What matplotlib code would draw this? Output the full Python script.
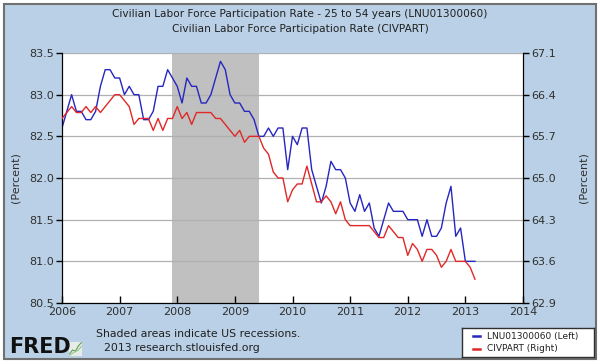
from matplotlib import pyplot as plt
from matplotlib.patches import Rectangle
import numpy as np
import pandas as pd

# monthly values, Jan 2006 .. Mar 2013
lnu01300060 = [82.6, 82.8, 83.0, 82.8, 82.8, 82.7, 82.7, 82.8, 83.1, 83.3, 83.3, 83.2,
               83.2, 83.0, 83.1, 83.0, 83.0, 82.7, 82.7, 82.8, 83.1, 83.1, 83.3, 83.2,
               83.1, 82.9, 83.2, 83.1, 83.1, 82.9, 82.9, 83.0, 83.2, 83.4, 83.3, 83.0,
               82.9, 82.9, 82.8, 82.8, 82.7, 82.5, 82.5, 82.6, 82.5, 82.6, 82.6, 82.1,
               82.5, 82.4, 82.6, 82.6, 82.1, 81.9, 81.7, 81.9, 82.2, 82.1, 82.1, 82.0,
               81.7, 81.6, 81.8, 81.6, 81.7, 81.4, 81.3, 81.5, 81.7, 81.6, 81.6, 81.6,
               81.5, 81.5, 81.5, 81.3, 81.5, 81.3, 81.3, 81.4, 81.7, 81.9, 81.3, 81.4,
               81.0, 81.0, 81.0]
civpart = [66.0, 66.1, 66.2, 66.1, 66.1, 66.2, 66.1, 66.2, 66.1, 66.2, 66.3, 66.4,
           66.4, 66.3, 66.2, 65.9, 66.0, 66.0, 66.0, 65.8, 66.0, 65.8, 66.0, 66.0,
           66.2, 66.0, 66.1, 65.9, 66.1, 66.1, 66.1, 66.1, 66.0, 66.0, 65.9, 65.8,
           65.7, 65.8, 65.6, 65.7, 65.7, 65.7, 65.5, 65.4, 65.1, 65.0, 65.0, 64.6,
           64.8, 64.9, 64.9, 65.2, 64.9, 64.6, 64.6, 64.7, 64.6, 64.4, 64.6, 64.3,
           64.2, 64.2, 64.2, 64.2, 64.2, 64.1, 64.0, 64.0, 64.2, 64.1, 64.0, 64.0,
           63.7, 63.9, 63.8, 63.6, 63.8, 63.8, 63.7, 63.5, 63.6, 63.8, 63.6, 63.6,
           63.6, 63.5, 63.3]
left_ticks = [80.5, 81.0, 81.5, 82.0, 82.5, 83.0, 83.5]
right_ticks = [62.9, 63.6, 64.3, 65.0, 65.7, 66.4, 67.1]
years = list(range(2006, 2015))
recession = (2007 + 11 / 12, 2009 + 5 / 12)

dates = pd.date_range('2006-01-01', periods=len(civpart), freq='MS')
x = dates.year + (dates.month - 1) / 12

bg = '#b9d0e6'
blue = '#2626c0'
red = '#e02828'
txt = '#202020'

fig = plt.figure(figsize=(6, 3.64), dpi=100)
fig.patch.set_facecolor('white')
fig.patches.append(Rectangle((4 / 600, 5 / 364), 592 / 600, 355 / 364, transform=fig.transFigure,
                             facecolor=bg, edgecolor='#707070', lw=1.5, zorder=-10))

ax = fig.add_axes([62 / 600, 1 - 303 / 364, 461 / 600, 250 / 364])
ax.set_facecolor('white')
ax.axvspan(*recession, color='#c0c0c0', lw=0, zorder=1)
ax.plot(x, lnu01300060, color=blue, lw=1, zorder=3)
ax.set_xlim(2006, 2014)
ax.set_ylim(80.5, 83.5)
ax.set_yticks(left_ticks)
ax.set_yticklabels(['%.1f' % v for v in left_ticks])
ax.set_xticks(years)
ax.set_xticklabels([str(y) for y in years])
for v in left_ticks:
    ax.axhline(v, color='#b0b0b0', lw=0.9, zorder=2)
ax.tick_params(axis='y', direction='out', length=4, width=1, labelsize=8, labelcolor='#303030', pad=2)
ax.tick_params(axis='x', direction='in', length=5, width=1, labelsize=8, labelcolor='#303030', pad=3)
ax.spines['top'].set_visible(False)
ax.set_ylabel('(Percent)', fontsize=8, color='#303030', labelpad=6)

ax2 = ax.twinx()
ax2.plot(x, civpart, color=red, lw=1, zorder=3)
ax2.set_ylim(62.9, 67.1)
ax2.set_yticks(right_ticks)
ax2.set_yticklabels(['%.1f' % v for v in right_ticks])
ax2.tick_params(axis='y', direction='out', length=4, width=1, labelsize=8, labelcolor='#303030', pad=2)
ax2.spines['top'].set_visible(False)
ax2.set_ylabel('(Percent)', fontsize=8, color='#303030', rotation=90, labelpad=16)

fig.text(0.5, 1 - 14 / 364, 'Civilian Labor Force Participation Rate - 25 to 54 years (LNU01300060)',
         ha='center', va='center', fontsize=7.6, color=txt)
fig.text(0.5, 1 - 29 / 364, 'Civilian Labor Force Participation Rate (CIVPART)',
         ha='center', va='center', fontsize=7.6, color=txt)

fig.text(96 / 600, 1 - 334 / 364, 'Shaded areas indicate US recessions.', ha='left', va='center',
         fontsize=7.8, color=txt)
fig.text(104 / 600, 1 - 348 / 364, '2013 research.stlouisfed.org', ha='left', va='center',
         fontsize=7.8, color=txt)
fig.text(9 / 600, 1 - 347 / 364, 'FRED', ha='left', va='center', fontsize=15, fontweight='bold',
         color='#111111')

# little chart icon next to the logo
icon = fig.add_axes([69 / 600, 1 - 356 / 364, 13 / 600, 14 / 364])
icon.set_facecolor('#e8ece8')
icon.plot([0, 1, 2, 3, 4], [0.5, 1.2, 1.0, 2.0, 2.6], color='#5aa050', lw=0.8)
icon.plot([0, 1, 2, 3, 4], [0.2, 0.6, 0.9, 1.2, 1.9], color='#9cc890', lw=0.8)
icon.set_xticks([])
icon.set_yticks([])
for s in icon.spines.values():
    s.set_visible(False)

# legend box
lg = fig.add_axes([462 / 600, 1 - 357 / 364, 132 / 600, 29 / 364])
lg.set_xlim(0, 1)
lg.set_ylim(0, 1)
lg.set_facecolor('white')
lg.set_xticks([])
lg.set_yticks([])
for s in lg.spines.values():
    s.set_color('#303030')
    s.set_linewidth(1)
lg.plot([0.08, 0.14], [0.72, 0.72], color=blue, lw=1.8)
lg.plot([0.08, 0.14], [0.28, 0.28], color=red, lw=1.8)
lg.text(0.19, 0.72, 'LNU01300060 (Left)', va='center', fontsize=6.5, color=txt)
lg.text(0.19, 0.28, 'CIVPART (Right)', va='center', fontsize=6.5, color=txt)

fig.savefig('out.png', dpi=100, facecolor=fig.get_facecolor())
